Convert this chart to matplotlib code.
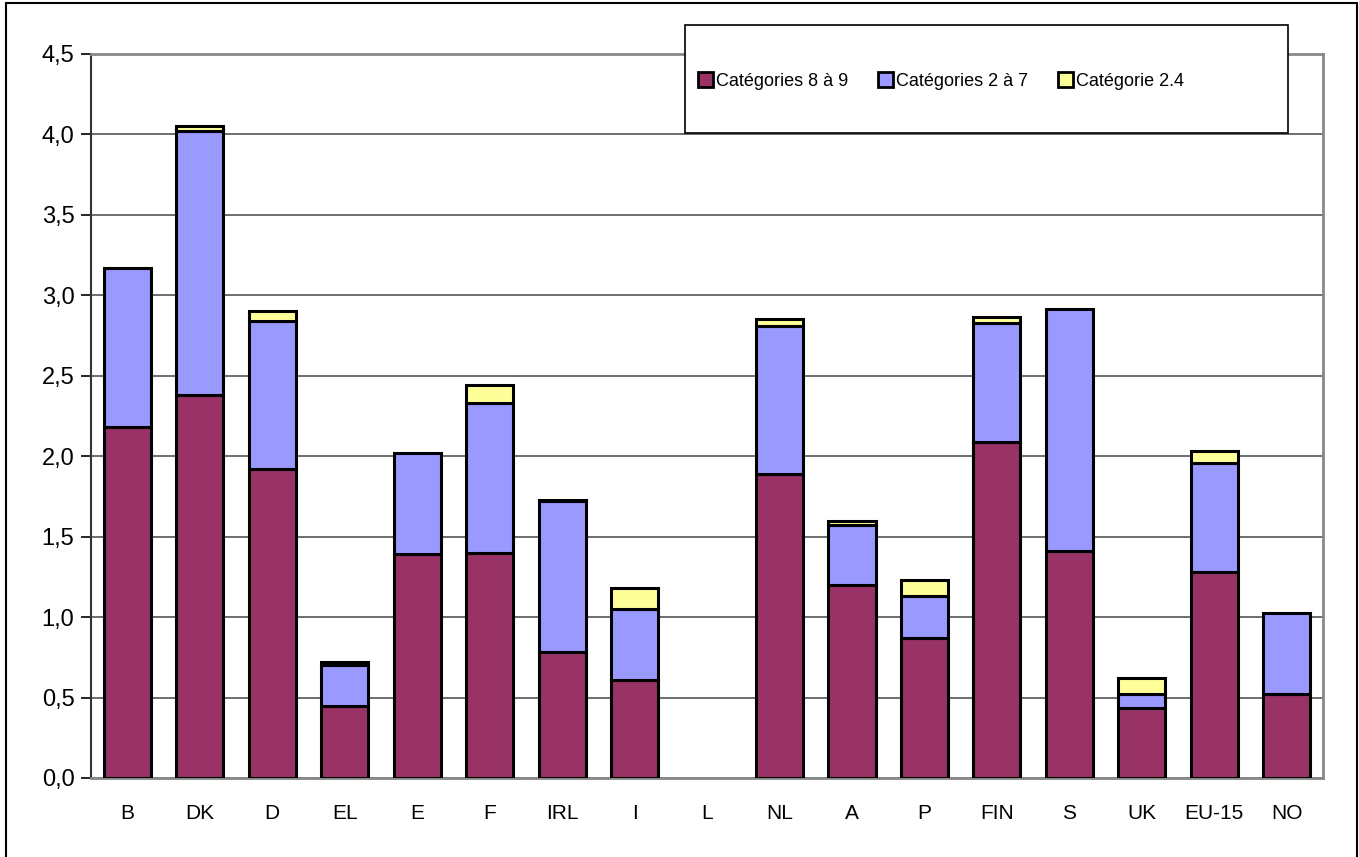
import matplotlib.pyplot as plt
import numpy as np
from matplotlib.patches import Rectangle, Patch

countries = ["B", "DK", "D", "EL", "E", "F", "IRL", "I", "L", "NL",
             "A", "P", "FIN", "S", "UK", "EU-15", "NO"]
cat_8_9 = [2.18, 2.38, 1.92, 0.45, 1.39, 1.40, 0.78, 0.61, 0.0, 1.89,
           1.20, 0.87, 2.09, 1.41, 0.435, 1.28, 0.52]
cat_2_7 = [0.99, 1.64, 0.92, 0.25, 0.63, 0.93, 0.94, 0.44, 0.0, 0.92,
           0.37, 0.26, 0.74, 1.505, 0.085, 0.68, 0.505]
cat_2_4 = [0.0, 0.03, 0.06, 0.02, 0.0, 0.11, 0.01, 0.13, 0.0, 0.04,
           0.03, 0.10, 0.035, 0.0, 0.10, 0.07, 0.0]
labels = ['Catégories 8 à 9', 'Catégories 2 à 7', 'Catégorie 2.4']
colors = ['#993366', '#9999FF', '#FFFF99']

plt.rcParams['font.family'] = ['Liberation Sans', 'DejaVu Sans']

fig = plt.figure(figsize=(13.59, 8.57), dpi=100)
ax = fig.add_axes([0.067, 0.0922, 0.9065, 0.845])

x = np.arange(len(countries))
w = 0.65
kw = dict(width=w, edgecolor='black', linewidth=2.2, zorder=3)
bottom = np.zeros(len(countries))
for vals, c in zip([cat_8_9, cat_2_7, cat_2_4], colors):
    bars = ax.bar(x, vals, bottom=bottom, color=c, **kw)
    # empty segments are not drawn
    for p in bars.patches:
        if p.get_height() == 0:
            p.set_visible(False)
    bottom = bottom + np.array(vals)

ax.set_xlim(-0.5, len(countries) - 0.5)
ax.set_ylim(0, 4.5)
yt = np.arange(0, 4.51, 0.5)
ax.set_yticks(yt)
ax.set_yticklabels([f"{v:.1f}".replace('.', ',') for v in yt], fontsize=17)
ax.set_xticks(x)
ax.set_xticklabels(countries, fontsize=15)
ax.tick_params(axis='x', length=0, pad=19)
ax.tick_params(axis='y', length=7, width=1.2, pad=5, direction='out')
ax.yaxis.grid(True, color='#555555', linewidth=1.2, zorder=0)
ax.set_axisbelow(True)
for s in ['top', 'right', 'bottom']:
    ax.spines[s].set_color('#888888')
    ax.spines[s].set_linewidth(2)
ax.spines['left'].set_color('#333333')
ax.spines['left'].set_linewidth(1.5)

# outer chart frame
fig.patches.append(Rectangle((6 / 1359, -0.01), 1351 / 1359, 1 - 3 / 857 + 0.01,
                             transform=fig.transFigure, fill=False,
                             edgecolor='black', linewidth=1.5))

# legend box
lx0, ly0 = 685 / 1359, 1 - 133 / 857
fig.patches.append(Rectangle((lx0, ly0), 603 / 1359, 108 / 857,
                             transform=fig.transFigure, facecolor='white',
                             edgecolor='black', linewidth=1.2, zorder=10))
handles = [Patch(facecolor=c, edgecolor='black', linewidth=2) for c in colors]
leg = fig.legend(handles=handles, labels=labels, loc='center left',
                 bbox_to_anchor=(698 / 1359, 1 - 81 / 857),
                 ncol=3, frameon=False, fontsize=13, handlelength=0.85,
                 handleheight=0.85, handletextpad=0.15, columnspacing=1.65,
                 borderpad=0, borderaxespad=0)
leg.set_zorder(11)

fig.savefig('out.png', dpi=100)
